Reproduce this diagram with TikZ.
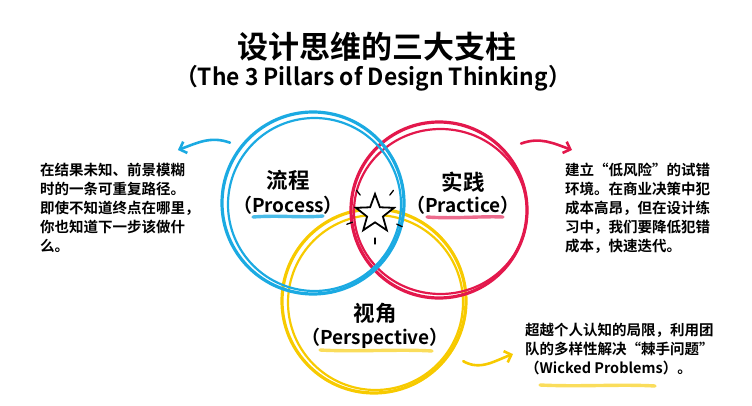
\documentclass[tikz,border=0pt]{standalone}
\usepackage{fontspec}
\setmainfont{Noto Sans CJK SC}[BoldFont={Noto Sans CJK SC Bold}]
\usetikzlibrary{shapes.geometric,arrows.meta}

\definecolor{pillblue}{HTML}{1BAAE2}
\definecolor{pillred}{HTML}{E3184C}
\definecolor{pillyellow}{HTML}{F7CA00}

\begin{document}
\begin{tikzpicture}[x=1pt,y=1pt,
  ring/.style={circle, draw=#1, line width=3.2pt, inner sep=0pt},
  ringtrace/.style={draw=#1, line width=2.2pt},
  pillar/.style={font=\bfseries\fontsize{21.5}{21.5}\selectfont},
  pillaren/.style={font=\bfseries\fontsize{19}{19}\selectfont},
  note/.style={anchor=north west, align=left, inner sep=0pt, font=\bfseries\fontsize{14.5}{19}\selectfont},
  swoosh/.style={line width=2.6pt, line cap=round, -{Straight Barb[length=6pt,width=12pt]}},
  brush/.style={line width=3.4pt, line cap=round, opacity=0.8}]
\useasboundingbox (0,0) rectangle (752,405);

% title
\node[font=\bfseries\fontsize{31}{31}\selectfont] (title) at (377,358) {设计思维的三大支柱};
\node[font=\bfseries\fontsize{23.5}{23.5}\selectfont, xscale=0.97] (subtitle) at (373,327) {（The 3 Pillars of Design Thinking）};

% three rings
\node[ring=pillyellow, minimum size=184pt] (perspective) at (374,104) {};
\draw[ringtrace=pillyellow] (375.5,102.5) circle (87.5);
\node[ring=pillred, minimum size=176pt] (practice) at (439,195) {};
\draw[ringtrace=pillred] (440.5,193.5) ellipse (86.5 and 82.5);
\node[ring=pillblue, minimum size=182pt] (process) at (313,202) {};
\draw[ringtrace=pillblue] (314.5,200.5) circle (86.5);

% labels in the rings
\node[pillar] (processzh) at (288,225) {流程};
\node[pillaren] (processen) at (288,200) {（Process）};
\draw[brush, pillblue] (253,188) .. controls (280,190) and (300,187) .. (323,189);
\node[pillar] (practicezh) at (463,223) {实践};
\node[pillaren] (practiceen) at (463,200) {（Practice）};
\draw[brush, pillred!80] (427,188) .. controls (455,186) and (480,189) .. (503,188);
\node[pillar] (perspectivezh) at (375,92) {视角};
\node[pillaren] (perspectiveen) at (375,67) {（Perspective）};
\draw[brush, pillyellow!80] (320,55) .. controls (355,53) and (400,56) .. (432,54);

% star in the middle
\node[star, star points=5, star point ratio=2.4, minimum size=40pt, inner sep=0pt,
  draw, fill=white, line width=1.8pt] (spark) at (375,191) {};
\foreach \a in {128,52,200,-25,270}
  \draw[line width=1.3pt, line cap=round] ([shift={(\a:24)}]spark.center) -- ([shift={(\a:30)}]spark.center);

% notes
\node[note] (processnote) at (40,242) {在结果未知、前景模糊\\时的一条可重复路径。\\即使不知道终点在哪里，\\你也知道下一步该做什\\么。};
\node[note] (practicenote) at (565,242) {建立“低风险”的试错\\环境。在商业决策中犯\\成本高昂，但在设计练\\习中，我们要降低犯错\\成本，快速迭代。};
\node[note] (perspectivenote) at (525,82) {超越个人认知的局限，利用团\\队的多样性解决“棘手问题”\\（Wicked Problems）。};
\draw[brush, pillyellow!80] (540,20) .. controls (580,18) and (620,21) .. (655,19);

% arrows to the notes
\draw[swoosh, pillblue] ([shift={(144:10)}]process.144) to[out=160, in=20] ([shift={(-22,13)}]processnote.north east);
\draw[swoosh, pillred] ([shift={(39:16)}]practice.39) to[out=20, in=160] ([shift={(7,13)}]practicenote.north west);
\draw[swoosh, pillyellow] ([shift={(-34:14)}]perspective.-34) to[out=-30, in=200] ([shift={(-12,-5)}]perspectivenote.west);
\end{tikzpicture}
\end{document}
